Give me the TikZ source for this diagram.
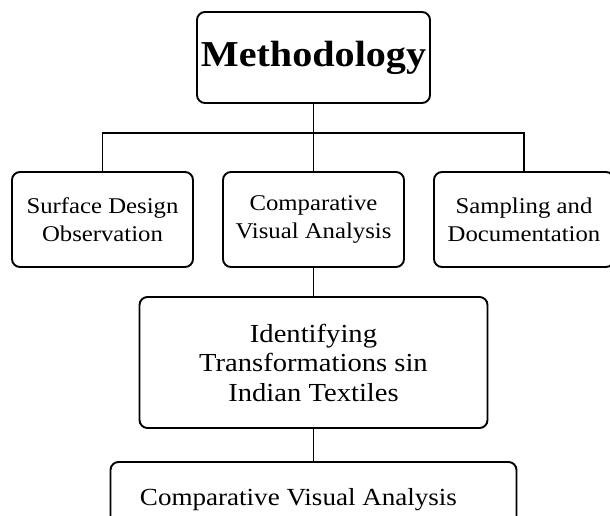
\documentclass[tikz,border=0pt]{standalone}
\usepackage{fontspec}
\setmainfont{Liberation Serif}[FakeStretch=1.1]
\begin{document}
\begin{tikzpicture}[x=1pt,y=-1pt,
  box/.style={draw, line width=1.9pt, rounded corners=8pt, fill=white, align=center, inner sep=0pt},
  conn/.style={line width=1.9pt},
  small/.style={font=\fontsize{22.5}{28}\selectfont}]
\useasboundingbox (0,0) rectangle (610,516);
\clip (0,0) rectangle (610,516);
\node[box, minimum width=233pt, minimum height=91pt, font=\bfseries\fontsize{36.5}{40}\selectfont] (meth) at (313.5,57.5) {Methodology};
\node[box, small, minimum width=181pt, minimum height=95pt] (left) at (102.5,219.5) {Surface Design\\Observation};
\node[box, small, minimum width=181pt, minimum height=95pt] (mid) at (313.5,219.5) {Comparative\\Visual Analysis};
\node[box, small, minimum width=180pt, minimum height=95pt] (right) at (524,219.5) {Sampling and\\Documentation};
\node[box, minimum width=348pt, minimum height=131pt, font=\fontsize{26}{29.5}\selectfont] (ident) at (313.5,362.5) {Identifying\\Transformations sin\\Indian Textiles};
\node[box, minimum width=406pt, minimum height=80pt] (bot) at (313.5,502) {};
\node[anchor=base, inner sep=0pt, font=\fontsize{24.6}{28}\selectfont] (bottxt) at (298.5,505) {Comparative Visual Analysis};
\coordinate (busM) at (313.5,133);
\draw[conn] (meth.south) -- (busM);
\draw[conn] (left.north) |- (busM) -| (right.north);
\draw[conn] (busM) -- (mid.north);
\draw[conn] (mid.south) -- (ident.north);
\draw[conn] (ident.south) -- (bot.north);
\end{tikzpicture}
\end{document}
